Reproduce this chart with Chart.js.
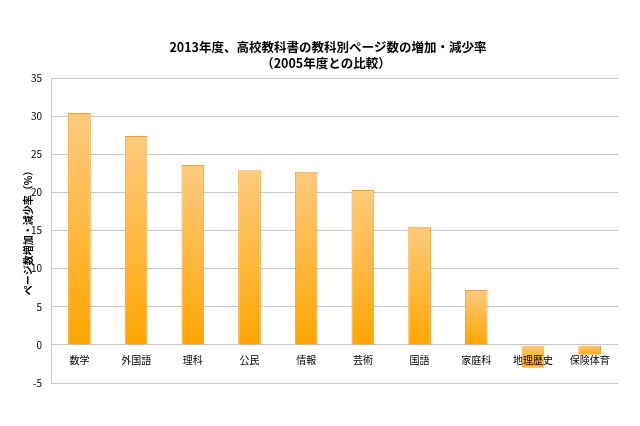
<!DOCTYPE html>
<html>
<head>
<meta charset="utf-8">
<script src="https://cdn.jsdelivr.net/npm/chart.js@4"></script>
<style>
  html, body { margin: 0; padding: 0; background: #fff; }
  #wrap { width: 640px; height: 426px; }
</style>
</head>
<body>
<div id="wrap"><canvas id="chart"></canvas></div>
<script>
const subjects = ["数学", "外国語", "理科", "公民", "情報", "芸術", "国語", "家庭科", "地理歴史", "保険体育"];
const changeRates = [30.4, 27.4, 23.6, 22.9, 22.7, 20.3, 15.5, 7.2, -3.0, -1.3];
const titleLines = ["2013年度、高校教科書の教科別ページ数の増加・減少率", "（2005年度との比較）"];
const yAxisTitle = "ページ数増加・減少率（%）";

const jpFont = "'Noto Sans CJK JP', 'Noto Sans', sans-serif";

function barGradient(context) {
  const chart = context.chart;
  const yScale = chart.scales.y;
  if (!chart.chartArea || !yScale) return "#ffb340";
  const value = context.raw;
  const yTop = yScale.getPixelForValue(Math.max(value, 0));
  const yBottom = yScale.getPixelForValue(Math.min(value, 0));
  if (!isFinite(yTop) || !isFinite(yBottom) || yTop === yBottom) return "#ffb340";
  const grad = chart.ctx.createLinearGradient(0, yTop, 0, yBottom);
  grad.addColorStop(0, "#ffcb80");
  grad.addColorStop(1, "#ffa500");
  return grad;
}

// title drawn by hand so it can sit slightly right of the canvas centre
const titlePlugin = {
  id: "twoLineTitle",
  afterDraw(chart) {
    const ctx = chart.ctx;
    ctx.save();
    ctx.fillStyle = "#000";
    ctx.font = "bold 12.5px " + jpFont;
    ctx.textAlign = "center";
    ctx.textBaseline = "middle";
    ctx.fillText(titleLines[0], 328, 47);
    ctx.fillText(titleLines[1], 326, 63);
    ctx.restore();
  },
};

new Chart(document.getElementById("chart").getContext("2d"), {
  type: "bar",
  data: {
    labels: subjects,
    datasets: [
      {
        data: changeRates,
        backgroundColor: barGradient,
        borderColor: "#f0a030",
        borderWidth: 1,
        barPercentage: 0.4,
        categoryPercentage: 1.0,
      },
    ],
  },
  options: {
    responsive: true,
    maintainAspectRatio: false,
    animation: false,
    layout: { padding: { top: 78, right: 22, bottom: 43, left: 22 } },
    plugins: {
      legend: { display: false },
      tooltip: { enabled: false },
      title: { display: false },
    },
    scales: {
      x: {
        position: { y: 0 },
        grid: { display: false },
        border: { display: false },
        ticks: {
          z: 1,
          color: "#000",
          font: { family: jpFont, size: 10 },
          padding: 1,
          maxRotation: 0,
          autoSkip: false,
        },
      },
      y: {
        min: -5,
        max: 35,
        ticks: {
          stepSize: 5,
          color: "#000",
          font: { family: jpFont, size: 10 },
          padding: 9,
        },
        grid: { color: "#c8c8c8", drawTicks: false },
        border: { color: "#c8c8c8" },
        title: {
          display: true,
          text: yAxisTitle,
          color: "#000",
          font: { family: jpFont, size: 10, weight: "bold" },
          padding: { top: 0, bottom: -12 },
        },
      },
    },
  },
  plugins: [titlePlugin],
});
</script>
</body>
</html>
